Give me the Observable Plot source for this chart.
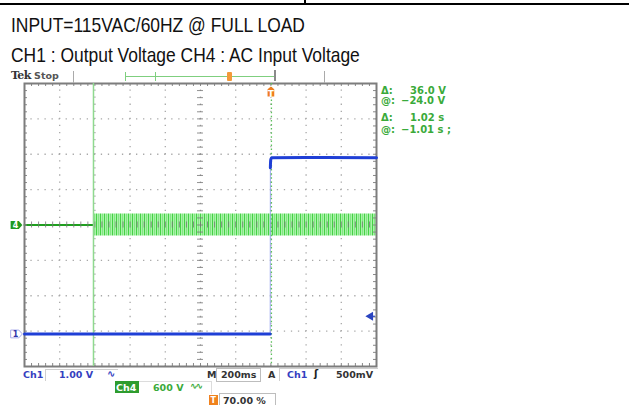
<!DOCTYPE html>
<html><head><meta charset="utf-8">
<script src="https://cdn.jsdelivr.net/npm/d3@7"></script>
<script src="https://cdn.jsdelivr.net/npm/@observablehq/plot@0.6"></script>
<style>
body{margin:0;background:#fff;}
#wrap{position:relative;width:629px;height:405px;overflow:hidden;background:#fff;}
#plot{position:absolute;left:0;top:0;}
.abs{position:absolute;white-space:nowrap;}
.hdr{font-family:"Liberation Sans",sans-serif;font-size:21px;line-height:21px;color:#111;transform:scaleX(0.83);transform-origin:0 0;}
.sc{font-family:"DejaVu Sans",sans-serif;font-weight:bold;font-size:9.5px;line-height:9.5px;}
.blk{position:absolute;background:#000;}
</style></head><body>
<div id="wrap">
  <div class="blk" style="left:0;top:3px;width:629px;height:2px;"></div>
  <div class="blk" style="left:304px;top:0;width:2px;height:5px;"></div>
  <div class="abs hdr" id="title" style="left:11px;top:14px;"></div>
  <div class="abs hdr" id="subtitle" style="left:11px;top:44px;"></div>
  <div id="plot"></div>
</div>
<svg width="0" height="0" style="position:absolute">
  <defs>
    <pattern id="acStripes" patternUnits="userSpaceOnUse" width="4" height="24">
      <rect width="4" height="24" fill="#aaf2aa"></rect>
      <rect x="0" width="1" height="24" fill="#45d245"></rect>
      <rect x="2" width="0.8" height="24" fill="#78e278"></rect>
    </pattern>
  </defs>
</svg>
<script>
// ---------- chart data ----------
const titleText = "INPUT=115VAC/60HZ @ FULL LOAD";
const subtitleText = "CH1 : Output Voltage CH4 : AC Input Voltage";

const timeDomain = [-1.4, 0.6];          // s : 200 ms/div, trigger at 70 %
const divDomain = [-4, 4];               // vertical divisions
const majorTimes = [-1.4, -1.2, -1.0, -0.8, -0.6, -0.4, -0.2, 0, 0.2, 0.4, 0.6];
const majorDivs = [-4, -3, -2, -1, 0, 1, 2, 3, 4];
const centerTime = -0.4;

// CH1 : output voltage (1.00 V/div)
const ch1VoltsPerDiv = 1.0;
const ch1OffsetDiv = -3.08;
const ch1LowTime = [-1.4, -0.6, -0.004];
const ch1LowVolt = [0, 0, 0];
const ch1EdgeTime = [-0.004, -0.003];
const ch1EdgeVolt = [0, 4.7];
const ch1HighTime = [-0.003, -0.002, 0.0, 0.004, 0.2, 0.6];
const ch1HighVolt = [4.7, 4.86, 4.94, 4.98, 4.99, 4.98];
const ch1TriggerLevel = 0.5;             // 500 mV

// CH4 : AC input voltage (600 V/div)
const ch4VoltsPerDiv = 600;
const ch4OffsetDiv = 0;
const ch4OffTime = [-1.4, -1.008];
const ch4OffVolt = [0, 0];
const acTime = [-1.008, 0.6];
const acLow = [-185, -185];
const acHigh = [185, 185];

// cursors
const cursorTimes = [-1.008, 0.003];

// readouts
const readouts = [["\u0394:", "36.0 V"], ["@:", "\u221224.0 V"], ["\u0394:", "1.02 s"], ["@:", "\u22121.01 s ;"]];

// ---------- build ----------
document.getElementById("title").textContent = titleText;
document.getElementById("subtitle").textContent = subtitleText;

const step = (a, b, n) => d3.range(n + 1).map(i => a + (b - a) * i / n);
const minorTimes = step(timeDomain[0], timeDomain[1], 50);
const minorDivs = step(divDomain[0], divDomain[1], 40);
const innerTimes = majorTimes.slice(1, -1);
const innerDivs = majorDivs.slice(1, -1);

const zip = (t, v) => t.map((d, i) => ({t: d, v: v[i]}));
const ch1Low = zip(ch1LowTime, ch1LowVolt);
const ch1Edge = zip(ch1EdgeTime, ch1EdgeVolt);
const ch1High = zip(ch1HighTime, ch1HighVolt);
const ch4Off = zip(ch4OffTime, ch4OffVolt);
const acBand = acTime.map((t, i) => ({t, lo: acLow[i], hi: acHigh[i]}));

const y1 = d => d.v / ch1VoltsPerDiv + ch1OffsetDiv;
const y4 = d => d.v / ch4VoltsPerDiv + ch4OffsetDiv;

const tagRight = {draw(ctx, size) { const s = Math.sqrt(size) / 2; ctx.moveTo(-s * 1.5, -s); ctx.lineTo(s * 0.6, -s); ctx.lineTo(s * 1.5, 0); ctx.lineTo(s * 0.6, s); ctx.lineTo(-s * 1.5, s); ctx.closePath(); }};
const tagDown = {draw(ctx, size) { const s = Math.sqrt(size) / 2; ctx.moveTo(0, -s * 1.6); ctx.lineTo(s * 0.9, -s * 0.9); ctx.lineTo(s * 0.9, s * 1.1); ctx.lineTo(-s * 0.9, s * 1.1); ctx.lineTo(-s * 0.9, -s * 0.9); ctx.closePath(); }};

const tickT = 0.017, tickD = 0.085;
const plot = Plot.plot({
  width: 629, height: 405,
  marginTop: 83, marginRight: 253, marginBottom: 39, marginLeft: 24,
  x: {domain: timeDomain, axis: null},
  y: {domain: divDomain, axis: null},
  style: {background: "transparent", overflow: "visible"},
  marks: [
    // dotted graticule
    Plot.ruleY(innerDivs, {stroke: "#a8a8a8", strokeWidth: 1.3, strokeDasharray: "1.3,5.74", strokeDashoffset: 0.65}),
    Plot.ruleX(innerTimes, {stroke: "#a8a8a8", strokeWidth: 1.3, strokeDasharray: "1.3,5.775", strokeDashoffset: 0.65}),
    // CH4 before AC on
    Plot.line(ch4Off, {x: "t", y: y4, stroke: "#1f9f1f", strokeWidth: 2}),
    // CH4 AC band
    Plot.areaY(acBand, {x: "t", y1: d => d.lo / ch4VoltsPerDiv + ch4OffsetDiv, y2: d => d.hi / ch4VoltsPerDiv + ch4OffsetDiv, fill: "url(#acStripes)"}),
    // center cross ticks
    Plot.ruleX(minorTimes, {y1: -tickD, y2: tickD, stroke: "#777", strokeOpacity: 0.8}),
    Plot.ruleY(minorDivs, {x1: centerTime - tickT, x2: centerTime + tickT, stroke: "#777", strokeOpacity: 0.8}),
    // edge ticks
    Plot.ruleX(minorTimes, {y1: divDomain[1], y2: divDomain[1] - tickD, stroke: "#888"}),
    Plot.ruleX(minorTimes, {y1: divDomain[0], y2: divDomain[0] + tickD, stroke: "#888"}),
    Plot.ruleY(minorDivs, {x1: timeDomain[0], x2: timeDomain[0] + tickT, stroke: "#888"}),
    Plot.ruleY(minorDivs, {x1: timeDomain[1], x2: timeDomain[1] - tickT, stroke: "#888"}),
    Plot.frame({stroke: "#7d7d7d", strokeWidth: 2}),
    // cursors
    Plot.ruleX([cursorTimes[0]], {stroke: "#8fd98f", strokeWidth: 1.5}),
    // CH1 trace
    Plot.line(ch1Edge, {x: "t", y: y1, stroke: "#9aa6f0", strokeWidth: 1}),
    Plot.ruleX([cursorTimes[1]], {stroke: "#5cc05c", strokeWidth: 1.3, strokeDasharray: "1.5,2.6"}),
    Plot.line(ch1Low, {x: "t", y: y1, stroke: "#1f3fd6", strokeWidth: 3}),
    Plot.line(ch1High, {x: "t", y: y1, stroke: "#1f3fd6", strokeWidth: 3, curve: "monotone-x"}),
    // trigger marker (top) and trigger level (right)
    Plot.dot([0], {x: d => d, y: divDomain[1], dy: 9, symbol: tagDown, r: 4.2, fill: "#f07d1e"}),
    Plot.text([0], {x: d => d, y: divDomain[1], dy: 10.5, text: () => "T", fill: "white", fontSize: 9, fontWeight: "bold", fontFamily: "DejaVu Sans"}),
    Plot.dot([ch1TriggerLevel], {x: timeDomain[1], y: d => d / ch1VoltsPerDiv + ch1OffsetDiv, dx: -6, symbol: "triangle", rotate: -90, r: 3.3, fill: "#2a44c0"}),
    Plot.ruleY([ch1TriggerLevel], {x1: timeDomain[1] - 0.02, x2: timeDomain[1] - 0.006, y: d => d / ch1VoltsPerDiv + ch1OffsetDiv, stroke: "#2a44c0", strokeWidth: 1.2}),
    // channel ground markers (left)
    Plot.dot([ch4OffsetDiv], {x: timeDomain[0], y: d => d, dx: -8, symbol: tagRight, r: 4.4, fill: "#1f9a1f"}),
    Plot.text([ch4OffsetDiv], {x: timeDomain[0], y: d => d, dx: -9, text: () => "4", fill: "white", fontSize: 8, fontWeight: "bold", fontFamily: "DejaVu Sans"}),
    Plot.dot([ch1OffsetDiv], {x: timeDomain[0], y: d => d, dx: -8, symbol: tagRight, r: 4.4, fill: "white", stroke: "#a8acea", strokeWidth: 1}),
    Plot.text([ch1OffsetDiv], {x: timeDomain[0], y: d => d, dx: -9, text: () => "1", fill: "#3036a8", fontSize: 8, fontWeight: "bold", fontFamily: "DejaVu Sans"})
  ]
});
document.getElementById("plot").append(plot);

// ---------- scope status texts ----------
const wrap = document.getElementById("wrap");
function add(html, style, cls = "abs sc") {
  const el = document.createElement("div");
  el.className = cls;
  el.setAttribute("style", style);
  el.innerHTML = html;
  wrap.append(el);
  return el;
}
function rect(style) { const el = document.createElement("div"); el.setAttribute("style", "position:absolute;" + style); wrap.append(el); }

// Tek Stop + record ruler
add('<span style="font-family:\'DejaVu Serif\';font-size:11px;letter-spacing:-0.6px;color:#333">Tek</span> <span style="color:#555;font-size:9.5px">Stop</span>', "left:11px;top:71px;");
rect("left:73px;top:71px;width:1.2px;height:12px;background:#aaa;");
rect("left:324px;top:71px;width:1.2px;height:12px;background:#aaa;");
rect("left:125px;top:76px;width:150px;height:1.3px;background:#7fcf7f;");
rect("left:125px;top:72px;width:1.3px;height:9px;background:#7fcf7f;");
rect("left:155px;top:72px;width:1.3px;height:9px;background:#7fcf7f;");
rect("left:274px;top:70px;width:1.5px;height:11px;background:#8a8a8a;");
rect("left:227px;top:72px;width:5px;height:9px;background:#f39a3a;border-radius:1px;");

// right-hand cursor readouts
const rowTops = [85.5, 96, 112.5, 124.5];
readouts.forEach((r, i) => {
  add(r[0], `left:381px;top:${rowTops[i]}px;color:#3aaa3a;font-size:10px;`);
  add(r[1], `left:${i % 2 ? 401 : 410}px;top:${rowTops[i]}px;color:#3aaa3a;font-size:10px;`);
});

// bottom status line
add("Ch1", "left:23px;top:369.5px;color:#3440c0;");
rect("left:45px;top:369px;width:72px;height:11px;border:1px solid #cfcfcf;border-bottom:none;border-right:none;");
add("1.00 V", "left:59px;top:369.5px;color:#3440c0;");
add("\u223F", "left:107px;top:369px;color:#3440c0;font-size:10px;");
add("M", "left:207px;top:369.5px;color:#333;");
rect("left:216px;top:368px;width:43px;height:12px;border:1px solid #bdbdbd;");
add("200ms", "left:221px;top:369.5px;color:#333;");
add("A", "left:268px;top:369.5px;color:#333;");
rect("left:279px;top:368px;width:98px;height:12px;border:1px solid #cfcfcf;border-bottom:none;border-right:none;");
add("Ch1", "left:287px;top:369.5px;color:#3440c0;");
add("\u0283", "left:314px;top:369px;color:#222;font-size:10px;");
add("500mV", "left:336px;top:369.5px;color:#333;");
rect("left:115px;top:381px;width:24px;height:12px;background:#2e9c2e;");
add("Ch4", "left:116px;top:382.5px;color:#fff;");
rect("left:139px;top:381px;width:72px;height:12px;border:1px solid #dcdcdc;border-left:none;border-bottom:none;");
add("600 V", "left:153px;top:382.5px;color:#3aaa3a;");
add("\u223F\u223F", "left:190px;top:382px;color:#3aaa3a;font-size:9px;letter-spacing:-2px;");
rect("left:209px;top:395px;width:9px;height:10px;background:#f0821e;");
add("T", "left:210.5px;top:396px;color:#fff;font-size:8px;");
rect("left:219px;top:393px;width:55px;height:12px;border:1px solid #bdbdbd;border-bottom:none;");
add("70.00 %", "left:223px;top:395.5px;color:#333;");
</script>
</body></html>
